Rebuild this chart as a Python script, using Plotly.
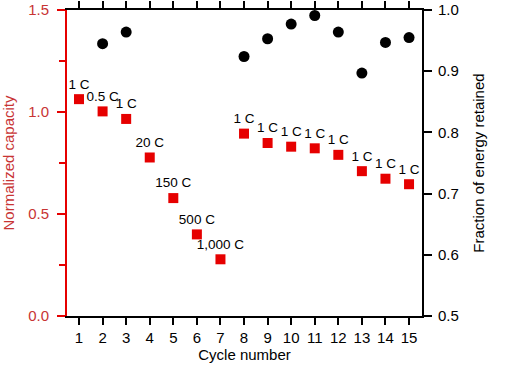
import plotly.graph_objects as go

cycles = list(range(1, 16))
capacity = [1.063, 1.003, 0.966, 0.777, 0.578, 0.40, 0.278, 0.894, 0.848, 0.830, 0.822, 0.790, 0.71, 0.673, 0.646]
rate_labels = ["1 C", "0.5 C", "1 C", "20 C", "150 C", "500 C", "1,000 C",
               "1 C", "1 C", "1 C", "1 C", "1 C", "1 C", "1 C", "1 C"]
energy_cycles = [2, 3, 8, 9, 10, 11, 12, 13, 14, 15]
energy_fraction = [0.945, 0.964, 0.924, 0.953, 0.977, 0.991, 0.964, 0.897, 0.947, 0.955]

RED = "#e60000"
RED_TXT = "#c83434"
FONT = "Liberation Sans, Arial, sans-serif"
XRANGE = [0.49, 15.55]

fig = go.Figure()
fig.add_trace(go.Scatter(
    x=cycles, y=capacity, mode="markers+text", text=rate_labels,
    textposition="top center", textfont=dict(size=13.5, color="black", family=FONT),
    marker=dict(symbol="square", size=10, color=RED), cliponaxis=False,
    showlegend=False, yaxis="y"))
fig.add_trace(go.Scatter(
    x=energy_cycles, y=energy_fraction, mode="markers",
    marker=dict(symbol="circle", size=11, color="black"),
    showlegend=False, yaxis="y2"))

fig.update_layout(
    width=505, height=373,
    margin=dict(l=67, r=83, t=10, b=57),
    paper_bgcolor="white", plot_bgcolor="white",
    font=dict(family=FONT, size=15, color="black"),
    xaxis=dict(range=XRANGE, tickmode="array", tickvals=cycles,
               automargin=False,
               showline=True, linecolor="black", linewidth=2, mirror="ticks",
               ticks="outside", ticklen=7, tickwidth=1.5, tickcolor="black",
               showgrid=False, zeroline=False,
               title=dict(text="Cycle number", font=dict(size=15), standoff=3)),
    yaxis=dict(range=[0, 1.5], tickvals=[0, 0.5, 1.0, 1.5],
               ticktext=["0.0", "0.5", "1.0", "1.5"], automargin=False,
               showline=True, linecolor=RED, linewidth=2,
               ticks="outside", ticklen=8, tickwidth=1.5, tickcolor=RED,
               ticklabelstandoff=5,
               tickfont=dict(color=RED_TXT, size=15),
               minor=dict(tickvals=[0.25, 0.75, 1.25], ticks="outside", ticklen=6, tickcolor=RED, tickwidth=1.5),
               showgrid=False, zeroline=False,
               title=dict(text="Normalized capacity", font=dict(color=RED_TXT, size=15), standoff=24)),
    yaxis2=dict(range=[0.5, 1.0], tickvals=[0.5, 0.6, 0.7, 0.8, 0.9, 1.0],
                ticktext=["0.5", "0.6", "0.7", "0.8", "0.9", "1.0"],
                overlaying="y", side="right", anchor="x", automargin=False,
                showline=True, linecolor="black", linewidth=2,
                ticks="outside", ticklen=8, tickwidth=1.5, tickcolor="black",
                ticklabelstandoff=3,
                showgrid=False, zeroline=False,
                title=dict(text="Fraction of energy retained", font=dict(size=15), standoff=16)),
)

fig.write_html("out.html", config={"displayModeBar": False},
               post_script="document.body.style.margin='0';document.body.style.overflow='hidden';")
